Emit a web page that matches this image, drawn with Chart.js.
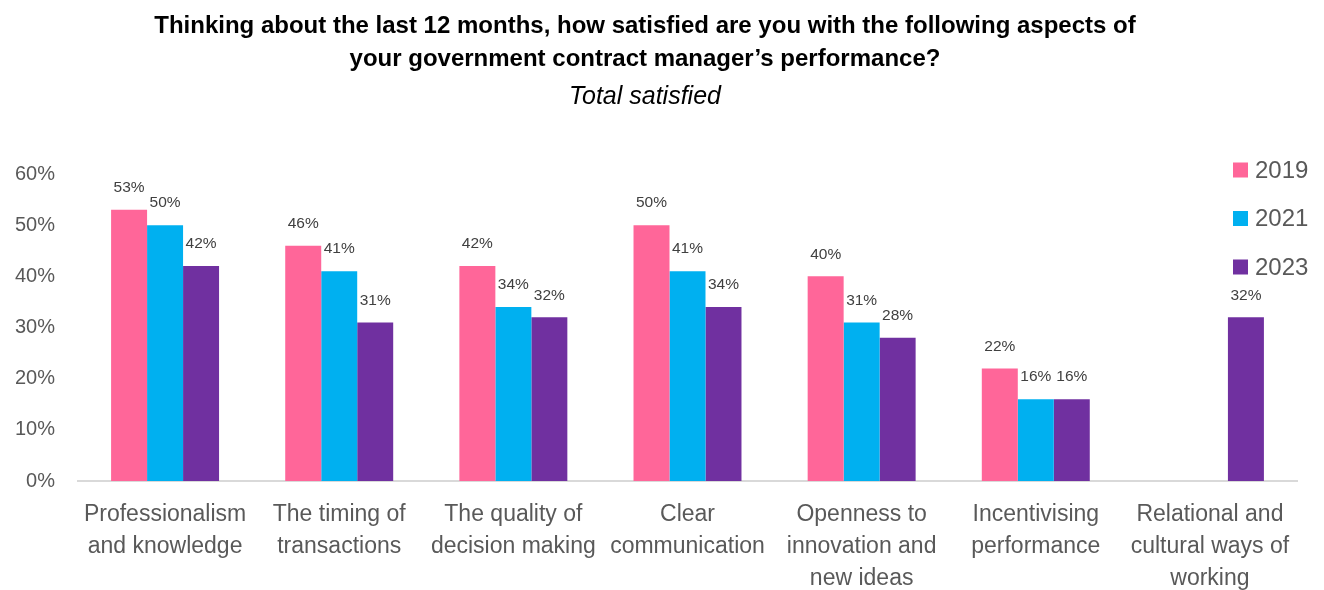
<!DOCTYPE html>
<html>
<head>
<meta charset="utf-8">
<script src="https://cdn.jsdelivr.net/npm/chart.js@4"></script>
<style>
  body { margin: 0; background: #fff; }
  #wrap { position: relative; width: 1324px; height: 590px; overflow: hidden; }
  #myChart { position: absolute; left: 0; top: 0; }
  .ttl { position: absolute; left: 0; width: 1290px; text-align: center; font-family: "Liberation Sans", Arial, sans-serif; color: #000; }
  #t1 { top: 8px; font-size: 24px; font-weight: bold; line-height: 33px; }
  #t2 { top: 80px; font-size: 25px; font-style: italic; line-height: 30px; }
</style>
</head>
<body>
<div id="wrap">
  <canvas id="myChart" width="1324" height="590"></canvas>
  <div class="ttl" id="t1">Thinking about the last 12 months, how satisfied are you with the following aspects of<br>your government contract manager’s performance?</div>
  <div class="ttl" id="t2">Total satisfied</div>
</div>
<script>
// data
const categories = [
  ['Professionalism', 'and knowledge'],
  ['The timing of', 'transactions'],
  ['The quality of', 'decision making'],
  ['Clear', 'communication'],
  ['Openness to', 'innovation and', 'new ideas'],
  ['Incentivising', 'performance'],
  ['Relational and', 'cultural ways of', 'working']
];
const years = ['2019', '2021', '2023'];
const values2019 = [53, 46, 42, 50, 40, 22, null];
const values2021 = [50, 41, 34, 41, 31, 16, null];
const values2023 = [42, 31, 32, 34, 28, 16, 32];
const yTicks = [0, 10, 20, 30, 40, 50, 60];

const colors = ['#FF6699', '#00B0F0', '#7030A0'];
const FONT = '"Liberation Sans", Arial, sans-serif';

// value labels above the bars
const barLabels = {
  id: 'barLabels',
  afterDatasetsDraw(chart) {
    const ctx = chart.ctx;
    ctx.save();
    ctx.font = '15.5px ' + FONT;
    ctx.fillStyle = '#404040';
    ctx.textAlign = 'center';
    ctx.textBaseline = 'middle';
    chart.data.datasets.forEach((ds, i) => {
      chart.getDatasetMeta(i).data.forEach((bar, j) => {
        const v = ds.data[j];
        if (v == null) return;
        ctx.fillText(v + '%', bar.x, bar.y - 22);
      });
    });
    ctx.restore();
  }
};

// legend at top right, stacked
const sideLegend = {
  id: 'sideLegend',
  afterDraw(chart) {
    const ctx = chart.ctx;
    const x = chart.chartArea.right - 64;
    ctx.save();
    ctx.font = '24px ' + FONT;
    ctx.textAlign = 'left';
    ctx.textBaseline = 'middle';
    chart.data.datasets.forEach((ds, i) => {
      const y = chart.chartArea.top - 4 + i * 48.5;
      ctx.fillStyle = ds.backgroundColor;
      ctx.fillRect(x, y - 7.5, 15, 15);
      ctx.fillStyle = '#595959';
      ctx.fillText(ds.label, x + 22, y + 1);
    });
    ctx.restore();
  }
};

const ctx = document.getElementById('myChart').getContext('2d');
new Chart(ctx, {
  type: 'bar',
  data: {
    labels: categories,
    datasets: [
      { label: years[0], data: values2019, backgroundColor: colors[0] },
      { label: years[1], data: values2021, backgroundColor: colors[1] },
      { label: years[2], data: values2023, backgroundColor: colors[2] }
    ]
  },
  plugins: [barLabels, sideLegend],
  options: {
    responsive: false,
    animation: false,
    categoryPercentage: 0.62,
    barPercentage: 1,
    layout: { padding: { top: 174, right: 27, left: 0, bottom: 0 } },
    plugins: {
      legend: { display: false },
      title: { display: false },
      tooltip: { enabled: false }
    },
    scales: {
      x: {
        grid: { display: false, drawTicks: false },
        border: { display: true, color: '#D9D9D9', width: 2 },
        ticks: {
          color: '#595959',
          font: { family: FONT, size: 23, lineHeight: '32px' },
          padding: 18,
          maxRotation: 0,
          autoSkip: false
        },
        afterFit: s => { s.height = 109; }
      },
      y: {
        min: yTicks[0],
        max: yTicks[yTicks.length - 1],
        grid: { display: false, drawTicks: false },
        border: { display: false },
        afterBuildTicks: s => { s.ticks = yTicks.map(v => ({ value: v })); },
        ticks: {
          color: '#595959',
          font: { family: FONT, size: 20 },
          padding: 23,
          callback: v => v + '%'
        },
        afterFit: s => { s.width = 78; }
      }
    }
  }
});
</script>
</body>
</html>
